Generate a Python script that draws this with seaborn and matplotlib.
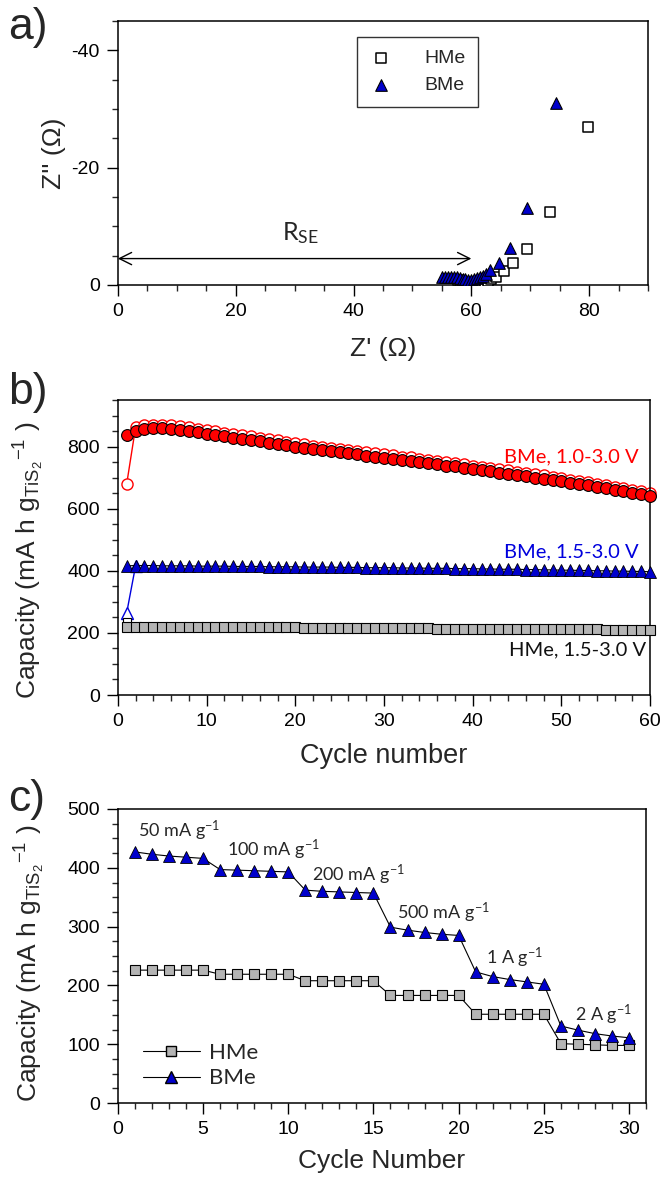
import numpy as np
import pandas as pd
import seaborn as sns
from matplotlib import pyplot as plt
from matplotlib.ticker import MultipleLocator
from matplotlib.lines import Line2D

# ---- panel a: Nyquist data ----
hme_zre = [57.8, 58.2, 58.6, 59.0, 59.4, 59.8, 60.2, 60.6, 61.0, 61.4, 61.8, 62.3, 62.8, 63.4, 64.2, 65.6, 67.0, 69.4, 73.3, 79.8]
hme_zim = [-0.9, -0.6, -0.4, -0.3, -0.2, -0.2, -0.3, -0.4, -0.5, -0.6, -0.3, 0.0, -0.6, -1.0, -1.4, -2.3, -3.7, -6.2, -12.4, -27.0]
bme_zre = [55.0, 55.5, 56.0, 56.5, 57.0, 57.5, 58.0, 58.5, 59.0, 59.5, 60.0, 60.5, 61.0, 61.5, 62.0, 62.5, 63.2, 64.7, 66.5, 69.4, 74.3]
bme_zim = [-1.3, -1.4, -1.4, -1.4, -1.3, -1.3, -1.2, -1.1, -1.0, -0.9, -0.9, -1.0, -1.2, -1.4, -1.6, -1.9, -2.5, -3.7, -6.25, -13.2, -31.0]

# ---- panel b: cycling data ----
cycles_b = list(range(1, 61))
red_dis = [838, 850, 857, 859, 859, 857, 854, 850, 846, 841, 837, 833, 829, 825, 821, 817, 813, 808, 804, 799,
           796, 792, 789, 785, 782, 778, 775, 771, 768, 764, 761, 757, 754, 750, 747, 743, 739, 736, 732, 728,
           724, 720, 716, 712, 708, 704, 700, 696, 692, 688, 684, 679, 675, 670, 666, 661, 656, 651, 646, 641]
red_chg = [680, 862, 868, 871, 871, 869, 866, 862, 858, 853, 849, 845, 841, 837, 833, 829, 824, 820, 816, 811,
           807, 803, 800, 796, 793, 789, 786, 782, 779, 775, 772, 768, 765, 761, 758, 754, 750, 747, 743, 739,
           735, 731, 727, 723, 719, 715, 711, 707, 703, 699, 694, 690, 685, 681, 676, 671, 666, 661, 656, 650]
blue_dis = [416, 417, 417, 417, 416, 416, 416, 416, 415, 415, 415, 415, 414, 414, 414, 414, 413, 413, 413, 413,
            412, 412, 412, 412, 411, 411, 411, 410, 410, 410, 410, 409, 409, 409, 408, 408, 408, 407, 407, 407,
            406, 406, 405, 405, 405, 404, 404, 403, 403, 402, 402, 401, 401, 400, 400, 399, 399, 398, 398, 397]
blue_chg_cyc = [1, 2]
blue_chg = [265, 416]
gray_dis = [218, 220, 220, 220, 220, 220, 220, 219, 219, 219, 219, 219, 219, 219, 218, 218, 218, 218, 218, 218,
            217, 217, 217, 217, 217, 216, 216, 216, 216, 216, 215, 215, 215, 215, 215, 214, 214, 214, 214, 214,
            213, 213, 213, 213, 213, 212, 212, 212, 212, 212, 211, 211, 211, 211, 210, 210, 210, 210, 209, 209]
gray_chg_cyc = [1]
gray_chg = [236]

# ---- panel c: rate data ----
cycles_c = list(range(1, 31))
hme_rate = [226, 226, 226, 226, 226, 219, 219, 219, 219, 219, 208, 208, 208, 208, 208,
            183, 183, 183, 183, 183, 151, 151, 151, 151, 151, 101, 100, 99, 98, 98]
bme_rate = [427, 423, 420, 418, 416, 397, 396, 395, 394, 393, 362, 360, 359, 358, 357,
            299, 294, 290, 287, 285, 223, 215, 210, 206, 202, 131, 124, 118, 114, 111]
rate_labels = [r'50 mA g$^{-1}$', r'100 mA g$^{-1}$', r'200 mA g$^{-1}$',
               r'500 mA g$^{-1}$', r'1 A g$^{-1}$', r'2 A g$^{-1}$']
rate_label_x = [1.2, 6.4, 11.4, 16.4, 21.6, 26.8]
rate_label_y = [462, 431, 388, 323, 247, 150]

sns.set_style("ticks")
plt.rcParams['font.family'] = ['Liberation Sans', 'DejaVu Sans']
plt.rcParams['axes.unicode_minus'] = False
plt.rcParams['mathtext.fontset'] = 'custom'
plt.rcParams['mathtext.rm'] = 'Liberation Sans'
plt.rcParams['mathtext.it'] = 'Liberation Sans:italic'
plt.rcParams['mathtext.default'] = 'regular'

ann_font = ['Lato', 'DejaVu Sans']
tick_font = ['Liberation Sans Narrow', 'Liberation Sans', 'DejaVu Sans']
cap_label = r'Capacity (mA h g$_{\mathregular{TiS_2}}$$^{\mathregular{-1}}$ )'

fig = plt.figure(figsize=(6.62, 11.81), dpi=100)
ax_a = fig.add_axes([0.178, 0.7587, 0.801, 0.2235])
ax_b = fig.add_axes([0.178, 0.4115, 0.804, 0.2498])
ax_c = fig.add_axes([0.178, 0.066, 0.798, 0.249])


def style_axes(ax):
    for s in ax.spines.values():
        s.set_visible(True)
        s.set_linewidth(1.1)
        s.set_color('black')
    ax.tick_params(which='major', direction='out', length=8, width=1, labelsize=14, colors='black', pad=5)
    ax.tick_params(which='minor', direction='out', length=4, width=1)
    ax.tick_params(top=False, right=False)
    for t in ax.get_xticklabels() + ax.get_yticklabels():
        t.set_family(tick_font)


# ---- a) ----
sns.scatterplot(x=hme_zre, y=hme_zim, ax=ax_a, marker='s', s=45, facecolor='white',
                edgecolor='black', linewidth=1.1, zorder=3, label='HMe')
sns.scatterplot(x=bme_zre, y=bme_zim, ax=ax_a, marker='^', s=70, color='#0000cc',
                edgecolor='black', linewidth=0.8, zorder=4, label='BMe')
ax_a.set_xlim(0, 90)
ax_a.set_ylim(0, -45)
ax_a.xaxis.set_major_locator(MultipleLocator(20))
ax_a.xaxis.set_minor_locator(MultipleLocator(5))
ax_a.yaxis.set_major_locator(MultipleLocator(20))
ax_a.yaxis.set_minor_locator(MultipleLocator(5))
ax_a.set_xlabel("Z' (\u03a9)", fontsize=19, labelpad=12)
ax_a.set_ylabel("Z'' (\u03a9)", fontsize=19, labelpad=4)
ax_a.annotate('', xy=(0, -4.5), xytext=(60, -4.5),
              arrowprops=dict(arrowstyle='<->', lw=1, color='black', mutation_scale=22,
                              shrinkA=0, shrinkB=0))
ax_a.text(31, -8.8, r'R$_{\mathregular{SE}}$', fontsize=18, ha='center', va='center', family=ann_font)
leg = ax_a.legend(loc='upper left', bbox_to_anchor=(0.451, 0.94), frameon=True, fancybox=False,
                  edgecolor='black', fontsize=14, handletextpad=1.6, borderpad=0.65,
                  labelspacing=0.5, handlelength=1.2, borderaxespad=0)
leg.get_frame().set_linewidth(1.0)
style_axes(ax_a)

# ---- b) ----
sns.lineplot(x=cycles_b, y=red_chg, ax=ax_b, color='red', lw=1, marker='o', markersize=8,
             markerfacecolor='white', markeredgecolor='red', markeredgewidth=1, zorder=2, clip_on=False)
sns.lineplot(x=cycles_b, y=red_dis, ax=ax_b, color='black', lw=0.8, marker='o', markersize=8.5,
             markerfacecolor='red', markeredgecolor='black', markeredgewidth=0.8, zorder=3, clip_on=False)
sns.lineplot(x=blue_chg_cyc, y=blue_chg, ax=ax_b, color='#0000dd', lw=1, marker='^', markersize=8,
             markerfacecolor='white', markeredgecolor='#0000dd', markeredgewidth=1, zorder=2)
sns.lineplot(x=cycles_b, y=blue_dis, ax=ax_b, color='black', lw=0.8, marker='^', markersize=8.5,
             markerfacecolor='#0000cc', markeredgecolor='black', markeredgewidth=0.6, zorder=3, clip_on=False)
sns.lineplot(x=gray_chg_cyc, y=gray_chg, ax=ax_b, color='black', lw=0, marker='s', markersize=6,
             markerfacecolor='white', markeredgecolor='black', markeredgewidth=0.8, zorder=2)
sns.lineplot(x=cycles_b, y=gray_dis, ax=ax_b, color='black', lw=0.8, marker='s', markersize=6.5,
             markerfacecolor='#b4b4b4', markeredgecolor='black', markeredgewidth=0.8, zorder=3, clip_on=False)
ax_b.set_xlim(0, 60)
ax_b.set_ylim(0, 950)
ax_b.xaxis.set_major_locator(MultipleLocator(10))
ax_b.xaxis.set_minor_locator(MultipleLocator(2))
ax_b.yaxis.set_major_locator(MultipleLocator(200))
ax_b.yaxis.set_minor_locator(MultipleLocator(50))
ax_b.set_xlabel('Cycle number', fontsize=19.5, labelpad=9)
ax_b.set_ylabel(cap_label, fontsize=19)
ax_b.yaxis.set_label_coords(-0.135, 0.455)
ax_b.text(58.7, 768, 'BMe, 1.0-3.0 V', color='red', fontsize=14.5, ha='right', va='center', family=ann_font)
ax_b.text(58.7, 460, 'BMe, 1.5-3.0 V', color='#0000dd', fontsize=14.5, ha='right', va='center', family=ann_font)
ax_b.text(59.6, 145, 'HMe, 1.5-3.0 V', color='#111111', fontsize=14.5, ha='right', va='center', family=ann_font)
style_axes(ax_b)

# ---- c) ----
sns.lineplot(x=cycles_c, y=hme_rate, ax=ax_c, color='black', lw=0.8, marker='s', markersize=7,
             markerfacecolor='#b4b4b4', markeredgecolor='black', markeredgewidth=0.8, zorder=3)
sns.lineplot(x=cycles_c, y=bme_rate, ax=ax_c, color='black', lw=0.8, marker='^', markersize=9,
             markerfacecolor='#0000cc', markeredgecolor='black', markeredgewidth=0.6, zorder=3)
for lab, lx, ly in zip(rate_labels, rate_label_x, rate_label_y):
    ax_c.text(lx, ly, lab, fontsize=13, ha='left', va='center', family=ann_font)
ax_c.set_xlim(0, 31)
ax_c.set_ylim(0, 500)
ax_c.xaxis.set_major_locator(MultipleLocator(5))
ax_c.xaxis.set_minor_locator(MultipleLocator(1))
ax_c.yaxis.set_major_locator(MultipleLocator(100))
ax_c.yaxis.set_minor_locator(MultipleLocator(25))
ax_c.set_xlabel('Cycle Number', fontsize=19, labelpad=8)
ax_c.set_ylabel(cap_label, fontsize=19)
ax_c.yaxis.set_label_coords(-0.135, 0.475)
handles = [Line2D([], [], color='black', lw=0.8, marker='s', markersize=7, markerfacecolor='#b4b4b4',
                  markeredgecolor='black'),
           Line2D([], [], color='black', lw=0.8, marker='^', markersize=9, markerfacecolor='#0000cc',
                  markeredgecolor='black')]
ax_c.legend(handles, ['HMe', 'BMe'], loc='lower left', bbox_to_anchor=(0.03, 0.02), frameon=False,
            handlelength=2.6, handletextpad=0.4, labelspacing=0.25, borderaxespad=0,
            prop={'family': ann_font, 'size': 16})
style_axes(ax_c)

# panel letters
fig.text(0.012, 1 - 28 / 1181, 'a)', fontsize=32, va='center', ha='left')
fig.text(0.012, 1 - 392 / 1181, 'b)', fontsize=32, va='center', ha='left')
fig.text(0.012, 1 - 800 / 1181, 'c)', fontsize=32, va='center', ha='left')

fig.savefig('out.png', dpi=100)
plt.close()
